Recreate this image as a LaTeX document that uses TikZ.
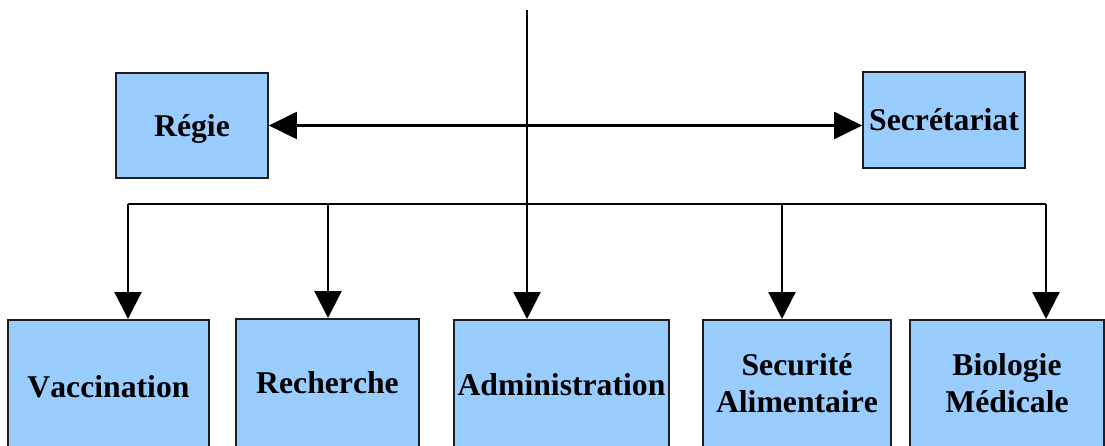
\documentclass[tikz,border=0pt]{standalone}
\usepackage{fontspec}
\setmainfont[Kerning=Off]{Liberation Serif}
\usetikzlibrary{arrows.meta}
\definecolor{boxfill}{HTML}{99CCFF}
\begin{document}
\begin{tikzpicture}[x=1pt,y=-1pt,
  box/.style={draw=black!88, line width=1.7pt, fill=boxfill, inner sep=0pt,
    font=\fontsize{31.7pt}{37pt}\selectfont\bfseries, align=center},
  single/.style={text height=22pt, text depth=0pt},
  wire/.style={line width=2.2pt, line cap=butt},
  head/.style={-{Triangle[length=27pt,width=27pt]}}]
\useasboundingbox (0,0) rectangle (1105,446);
\clip (0,0) rectangle (1105,446);

% upper level
\node[box, single, minimum width=152pt, minimum height=105pt] (regie) at (192,125.5) {Régie};
\node[box, single, minimum width=162pt, minimum height=96pt] (secr) at (944,120) {Secrétariat};

% lower level (boxes run past the lower edge)
\node[box, single, anchor=north, minimum width=201pt, minimum height=134pt] (vac) at (108.5,319) {Vaccination};
\node[box, single, anchor=north, minimum width=183pt, minimum height=128pt] (rech) at (327.5,318) {Recherche};
\node[box, single, anchor=north, minimum width=215pt, minimum height=130pt] (adm) at (561.5,319) {Administration};
\node[box, anchor=north, minimum width=188pt, minimum height=127pt] (secu) at (797,319) {Securité\\Alimentaire};
\node[box, anchor=north, minimum width=194pt, minimum height=127pt] (bio) at (1007,319) {Biologie\\Médicale};

% connectors
\coordinate (top) at (527,10);
\coordinate (busL) at (128,204);
\coordinate (busR) at (1046,204);
\coordinate (tapR) at (328,204);
\coordinate (tapS) at (782,204);

\draw[wire, {Triangle[length=28pt,width=27pt]}-{Triangle[length=28pt,width=27pt]}]
  (regie.east) -- (regie.east -| secr.west);
\draw[wire] (busL) -- (busR);
\draw[wire, head] (top) -- (top |- adm.north);
\draw[wire, head] (busL) -- (busL |- vac.north);
\draw[wire, head] (tapR) -- (tapR |- rech.north);
\draw[wire, head] (tapS) -- (tapS |- secu.north);
\draw[wire, head] (busR) -- (busR |- bio.north);
\end{tikzpicture}
\end{document}
